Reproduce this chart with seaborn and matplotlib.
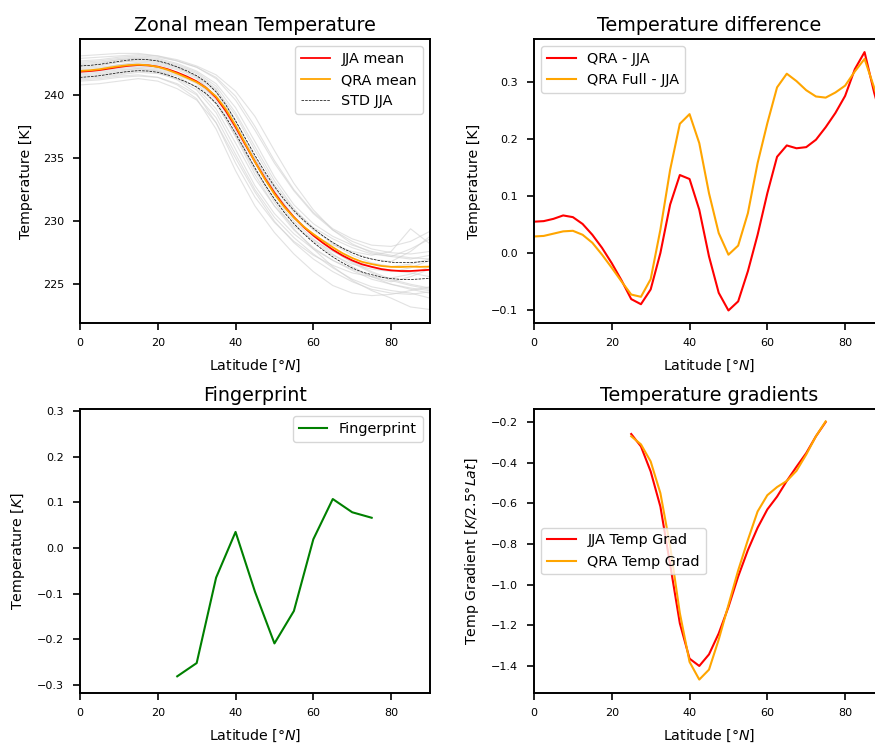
import numpy as np
import pandas as pd
import matplotlib
matplotlib.use("Agg")
import matplotlib.pyplot as plt
import seaborn as sns

# ---------------- data ----------------
lat = [0, 2.5, 5, 7.5, 10, 12.5, 15, 17.5, 20, 22.5, 25, 27.5, 30, 32.5, 35, 37.5,
       40, 42.5, 45, 47.5, 50, 52.5, 55, 57.5, 60, 62.5, 65, 67.5, 70, 72.5, 75,
       77.5, 80, 82.5, 85, 87.5, 90]

jja_mean = [241.85, 241.90, 241.98, 242.10, 242.22, 242.32, 242.38, 242.35, 242.25,
            242.05, 241.78, 241.46, 241.08, 240.55, 239.79, 238.74, 237.46, 236.08,
            234.71, 233.42, 232.25, 231.21, 230.32, 229.54, 228.87, 228.27, 227.74,
            227.28, 226.89, 226.58, 226.38, 226.20, 226.10, 226.05, 226.05, 226.10,
            226.15]

qra_mean = [241.91, 241.96, 242.04, 242.17, 242.28, 242.37, 242.41, 242.36, 242.23,
            242.00, 241.70, 241.37, 241.02, 240.55, 239.88, 238.88, 237.59, 236.16,
            234.70, 233.35, 232.15, 231.13, 230.29, 229.57, 228.98, 228.44, 227.93,
            227.46, 227.08, 226.78, 226.60, 226.45, 226.38, 226.37, 226.40, 226.38,
            226.40]

jja_std = [0.45, 0.45, 0.45, 0.45, 0.45, 0.45, 0.45, 0.45, 0.45, 0.45, 0.45, 0.45,
           0.45, 0.45, 0.46, 0.48, 0.50, 0.50, 0.50, 0.50, 0.50, 0.51, 0.52, 0.53,
           0.55, 0.56, 0.57, 0.58, 0.60, 0.61, 0.62, 0.64, 0.65, 0.66, 0.67, 0.68,
           0.68]

lat5 = [0, 5, 10, 15, 20, 25, 30, 35, 40, 45, 50, 55, 60, 65, 70, 75, 80, 85, 90]
years = {
    "y01": [243.1, 243.2, 243.3, 243.3, 243.1, 242.7, 242.2, 241.3, 239.6, 237.2, 234.6, 232.4, 230.6, 229.3, 228.4, 227.8, 227.5, 227.4, 227.6],
    "y02": [240.8, 240.9, 241.1, 241.3, 241.1, 240.5, 239.6, 237.8, 235.0, 232.3, 230.0, 228.3, 227.0, 226.0, 225.2, 224.6, 224.3, 224.2, 224.4],
    "y03": [242.4, 242.5, 242.8, 242.9, 242.8, 242.4, 241.8, 240.7, 238.6, 235.9, 233.2, 231.0, 229.4, 228.2, 227.3, 226.7, 226.4, 226.6, 227.0],
    "y04": [241.5, 241.6, 241.8, 242.0, 241.9, 241.5, 240.6, 238.9, 236.2, 233.4, 231.2, 229.6, 228.5, 227.6, 226.8, 226.0, 225.4, 225.0, 224.7],
    "y05": [242.0, 242.1, 242.4, 242.6, 242.5, 242.1, 241.5, 240.4, 238.4, 235.6, 232.9, 230.9, 229.5, 228.6, 227.9, 227.4, 227.2, 227.8, 228.6],
    "y06": [241.2, 241.3, 241.5, 241.6, 241.4, 240.9, 240.0, 238.2, 235.3, 232.5, 230.3, 228.7, 227.4, 226.3, 225.4, 224.8, 224.5, 224.3, 223.9],
    "y07": [242.7, 242.8, 243.0, 243.1, 243.0, 242.7, 242.2, 241.4, 239.9, 237.5, 234.8, 232.5, 230.7, 229.4, 228.6, 228.1, 228.0, 228.4, 229.2],
    "y08": [241.7, 241.8, 242.0, 242.1, 241.9, 241.3, 240.4, 238.6, 235.7, 232.8, 230.6, 229.0, 227.8, 226.9, 226.2, 225.6, 225.2, 225.6, 226.2],
    "y09": [242.2, 242.3, 242.6, 242.8, 242.7, 242.3, 241.7, 240.5, 238.0, 235.0, 232.3, 230.3, 228.8, 227.7, 226.9, 226.4, 226.1, 225.9, 225.6],
    "y10": [241.9, 242.0, 242.2, 242.3, 242.2, 241.8, 241.1, 239.6, 236.9, 234.0, 231.5, 229.4, 227.8, 226.4, 225.3, 224.5, 223.9, 223.2, 223.0],
    "y11": [242.9, 243.0, 243.1, 243.2, 243.1, 242.8, 242.3, 241.6, 240.3, 238.3, 235.6, 233.0, 230.9, 229.3, 228.2, 227.5, 227.2, 227.0, 227.3],
    "y12": [241.4, 241.5, 241.7, 241.9, 241.8, 241.2, 240.1, 237.8, 234.6, 231.9, 229.9, 228.4, 227.3, 226.5, 225.9, 225.6, 225.5, 225.8, 226.4],
    "y13": [242.3, 242.4, 242.6, 242.7, 242.6, 242.2, 241.5, 240.2, 237.9, 235.1, 232.6, 230.7, 229.3, 228.3, 227.5, 227.0, 226.8, 227.6, 228.8],
    "y14": [241.6, 241.7, 241.9, 242.1, 242.0, 241.6, 240.9, 239.4, 236.7, 233.7, 231.2, 229.3, 227.9, 226.9, 226.1, 225.4, 225.0, 224.7, 224.5],
    "y15": [242.6, 242.7, 242.9, 243.0, 242.9, 242.5, 241.9, 240.9, 239.0, 236.3, 233.5, 231.3, 229.8, 228.8, 228.1, 227.6, 227.3, 227.1, 227.0],
    "y16": [241.1, 241.2, 241.4, 241.5, 241.4, 240.8, 239.7, 237.3, 234.0, 231.2, 229.1, 227.4, 226.0, 224.9, 224.3, 224.1, 224.2, 224.5, 224.8],
    "y17": [242.1, 242.2, 242.4, 242.5, 242.4, 242.0, 241.3, 239.9, 237.4, 234.6, 232.1, 230.2, 228.9, 228.1, 227.6, 227.3, 227.6, 229.4, 228.2],
    "y18": [241.8, 241.9, 242.1, 242.2, 242.1, 241.7, 241.0, 239.8, 237.6, 234.9, 232.4, 230.4, 228.9, 227.7, 226.7, 225.9, 225.3, 224.9, 224.6],
    "y19": [242.5, 242.6, 242.8, 242.9, 242.7, 242.2, 241.4, 239.9, 237.2, 234.2, 231.7, 229.8, 228.4, 227.3, 226.6, 226.2, 226.0, 226.3, 226.9],
    "y20": [241.3, 241.4, 241.6, 241.8, 241.7, 241.3, 240.7, 239.3, 236.8, 234.1, 231.8, 230.0, 228.6, 227.4, 226.4, 225.6, 225.0, 224.6, 224.3],
}

lat_diff = lat[:-1] + [90]
qra_minus_jja = [0.055, 0.056, 0.060, 0.066, 0.063, 0.051, 0.032, 0.009, -0.018,
                 -0.048, -0.081, -0.090, -0.064, 0.000, 0.085, 0.137, 0.130, 0.076,
                 -0.006, -0.070, -0.101, -0.085, -0.032, 0.032, 0.105, 0.169, 0.189,
                 0.184, 0.186, 0.199, 0.221, 0.246, 0.276, 0.323, 0.353, 0.281, 0.220]
qrafull_minus_jja = [0.029, 0.030, 0.034, 0.038, 0.039, 0.032, 0.018, -0.003, -0.026,
                     -0.050, -0.073, -0.077, -0.046, 0.041, 0.146, 0.227, 0.244, 0.193,
                     0.105, 0.035, -0.003, 0.013, 0.070, 0.158, 0.228, 0.291, 0.315,
                     0.302, 0.286, 0.275, 0.273, 0.282, 0.294, 0.319, 0.341, 0.290, 0.240]

lat_fp = [25, 30, 35, 40, 45, 50, 55, 60, 65, 70, 75]
fingerprint = [-0.281, -0.252, -0.065, 0.035, -0.096, -0.209, -0.138, 0.019, 0.107,
               0.078, 0.066]

lat_grad = [25, 27.5, 30, 32.5, 35, 37.5, 40, 42.5, 45, 47.5, 50, 52.5, 55, 57.5,
            60, 62.5, 65, 67.5, 70, 72.5, 75]
jja_grad = [-0.259, -0.320, -0.443, -0.616, -0.900, -1.190, -1.364, -1.400, -1.343,
            -1.240, -1.110, -0.960, -0.830, -0.720, -0.630, -0.567, -0.490, -0.420,
            -0.353, -0.270, -0.200]
qra_grad = [-0.270, -0.310, -0.394, -0.550, -0.810, -1.140, -1.380, -1.467, -1.418,
            -1.270, -1.100, -0.930, -0.780, -0.640, -0.560, -0.520, -0.490, -0.440,
            -0.360, -0.270, -0.197]

# ---------------- style ----------------
plt.rcParams.update({
    "font.family": ["DejaVu Sans"],
    "axes.linewidth": 1.4,
    "axes.edgecolor": "black",
    "xtick.labelsize": 8,
    "ytick.labelsize": 8,
    "xtick.major.width": 1.2,
    "ytick.major.width": 1.2,
    "xtick.major.size": 5,
    "ytick.major.size": 5,
    "xtick.major.pad": 5.5,
    "ytick.major.pad": 6.5,
    "axes.labelsize": 10.2,
    "axes.labelpad": 7,
    "axes.titlesize": 13.8,
    "legend.fontsize": 10.4,
})

fig = plt.figure(figsize=(8.75, 7.47), dpi=100)
W, H = 875.0, 747.0
def make_ax(l, t, r, b):
    return fig.add_axes([l / W, 1 - b / H, (r - l) / W, (b - t) / H])

ax1 = make_ax(80, 39, 430, 323)
ax2 = make_ax(534, 39, 884, 323)
ax3 = make_ax(80, 409, 430, 693)
ax4 = make_ax(534, 409, 884, 693)

# --- panel 1 ---
df_years = pd.DataFrame(
    [(y, la, v) for y, vals in years.items() for la, v in zip(lat5, vals)],
    columns=["year", "lat", "T"])
sns.lineplot(data=df_years, x="lat", y="T", units="year", estimator=None,
             color="#cfcfcf", alpha=0.6, linewidth=0.8, ax=ax1, legend=False)
mean_arr = np.array(jja_mean)
std_arr = np.array(jja_std)
sns.lineplot(x=lat, y=jja_mean, color="red", linewidth=1.3, label="JJA mean", ax=ax1)
sns.lineplot(x=lat, y=qra_mean, color="orange", linewidth=1.3, label="QRA mean", ax=ax1)
sns.lineplot(x=lat, y=list(mean_arr + std_arr), color="black", linewidth=0.5,
             linestyle="--", label="STD JJA", ax=ax1)
sns.lineplot(x=lat, y=list(mean_arr - std_arr), color="black", linewidth=0.5,
             linestyle="--", ax=ax1)
ax1.set_xlim(0, 90)
ax1.set_ylim(221.93, 244.44)
ax1.set_yticks([225, 230, 235, 240])
ax1.set_xticks([0, 20, 40, 60, 80])
ax1.set_title("Zonal mean Temperature")
ax1.set_xlabel("Latitude [$\\degree N$]")
ax1.set_ylabel("Temperature [K]")
ax1.legend(loc="upper right")

# --- panel 2 ---
sns.lineplot(x=lat_diff, y=qra_minus_jja, color="red", linewidth=1.5,
             label="QRA - JJA", ax=ax2)
sns.lineplot(x=lat_diff, y=qrafull_minus_jja, color="orange", linewidth=1.5,
             label="QRA Full - JJA", ax=ax2)
ax2.set_xlim(0, 90)
ax2.set_ylim(-0.123, 0.376)
ax2.set_yticks([-0.1, 0.0, 0.1, 0.2, 0.3])
ax2.set_xticks([0, 20, 40, 60, 80])
ax2.set_title("Temperature difference")
ax2.set_xlabel("Latitude [$\\degree N$]")
ax2.set_ylabel("Temperature [K]")
ax2.legend(loc="upper left")

# --- panel 3 ---
sns.lineplot(x=lat_fp, y=fingerprint, color="green", linewidth=1.5,
             label="Fingerprint", ax=ax3)
ax3.set_xlim(0, 90)
ax3.set_ylim(-0.3175, 0.304)
ax3.set_yticks([-0.3, -0.2, -0.1, 0.0, 0.1, 0.2, 0.3])
ax3.set_xticks([0, 20, 40, 60, 80])
ax3.set_title("Fingerprint")
ax3.set_xlabel("Latitude [$\\degree N$]")
ax3.set_ylabel("Temperature [$K$]")
ax3.legend(loc="upper right")

# --- panel 4 ---
sns.lineplot(x=lat_grad, y=jja_grad, color="red", linewidth=1.5,
             label="JJA Temp Grad", ax=ax4)
sns.lineplot(x=lat_grad, y=qra_grad, color="orange", linewidth=1.5,
             label="QRA Temp Grad", ax=ax4)
ax4.set_xlim(0, 90)
ax4.set_ylim(-1.533, -0.136)
ax4.set_yticks([-1.4, -1.2, -1.0, -0.8, -0.6, -0.4, -0.2])
ax4.set_xticks([0, 20, 40, 60, 80])
ax4.set_title("Temperature gradients")
ax4.set_xlabel("Latitude [$\\degree N$]")
ax4.set_ylabel("Temp Gradient [$K/2.5\\degree Lat$]")
ax4.legend(loc="center left")

fig.savefig("out.png", dpi=100)
